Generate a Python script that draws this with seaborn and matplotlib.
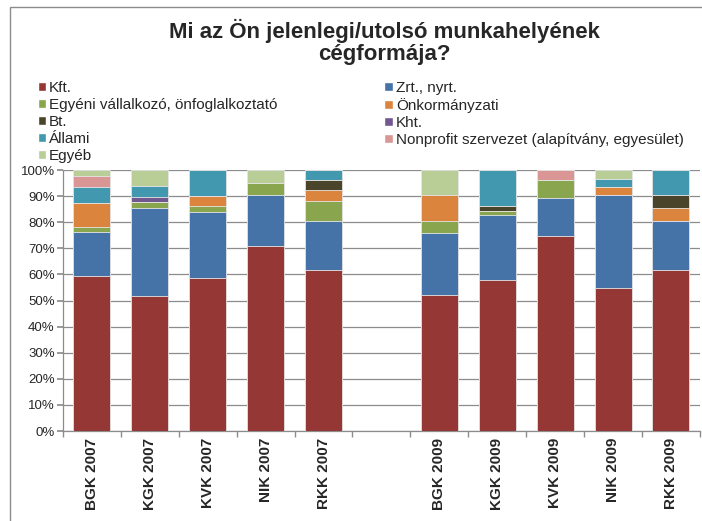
import numpy as np
import pandas as pd
import matplotlib
matplotlib.use('Agg')
import matplotlib.pyplot as plt
from matplotlib.patches import Rectangle, Patch
import seaborn as sns

categories = ['BGK 2007', 'KGK 2007', 'KVK 2007', 'NIK 2007', 'RKK 2007', '',
              'BGK 2009', 'KGK 2009', 'KVK 2009', 'NIK 2009', 'RKK 2009']

series = ['Kft.', 'Zrt., nyrt.', 'Egyéni vállalkozó, önfoglalkoztató', 'Önkormányzati',
          'Bt.', 'Kht.', 'Állami', 'Nonprofit szervezet (alapítvány, egyesület)', 'Egyéb']

kft       = [59.4, 51.9, 58.7, 71.0, 61.5, 0, 52.2, 57.7, 74.7, 54.7, 61.8]
zrt       = [17.0, 33.6, 25.4, 19.4, 18.8, 0, 23.8, 24.9, 14.4, 35.6, 18.8]
egyeni    = [1.9, 2.2, 2.1, 4.6, 8.0, 0, 4.5, 1.8, 7.1, 0.0, 0.0]
onkorm    = [8.9, 0.0, 3.8, 0.0, 3.9, 0, 9.9, 0.0, 0.0, 3.0, 4.9]
bt        = [0.0, 0.0, 0.0, 0.0, 3.8, 0, 0.0, 2.0, 0.0, 0.0, 4.9]
kht       = [0.0, 1.9, 0.0, 0.0, 0.0, 0, 0.0, 0.0, 0.0, 0.0, 0.0]
allami    = [6.1, 4.3, 10.0, 0.0, 4.0, 0, 0.0, 13.6, 0.0, 3.2, 9.6]
nonprofit = [4.3, 0.0, 0.0, 0.0, 0.0, 0, 0.0, 0.0, 3.8, 0.0, 0.0]
egyeb     = [2.4, 6.1, 0.0, 5.0, 0.0, 0, 9.6, 0.0, 0.0, 3.5, 0.0]

colors = ['#953735', '#4572A7', '#89A54E', '#DB843D', '#4A452A',
          '#71588F', '#4198AF', '#D99694', '#B9CD96']

sns.set_theme(style='white')
plt.rcParams['font.family'] = ['Liberation Sans', 'DejaVu Sans']

values = [kft, zrt, egyeni, onkorm, bt, kht, allami, nonprofit, egyeb]
df = pd.DataFrame(dict(zip(series, values)), index=categories)
df = df.div(df.sum(axis=1).replace(0, 1), axis=0) * 100
cum = df.cumsum(axis=1)

fig = plt.figure(figsize=(7.02, 5.21), dpi=100)
ax = fig.add_axes([0.0897, 0.1727, 0.9073, 0.501])

# draw cumulative totals from the top layer down so each layer covers the next
for i in reversed(range(len(series))):
    sns.barplot(x=categories, y=cum[series[i]].values, order=categories, color=colors[i],
                width=0.64, edgecolor='#e6e6e6', linewidth=0.6, saturation=1, ax=ax, zorder=3)

ax.set_ylim(0, 100)
ax.set_xlim(-0.5, len(categories) - 0.5)
ax.set_yticks(np.arange(0, 101, 10))
ax.set_yticklabels([f'{v}%' for v in range(0, 101, 10)], fontsize=9.5)
ax.yaxis.grid(True, color='#8c8c8c', linewidth=0.9)
ax.set_axisbelow(True)
for s in ['top', 'right']:
    ax.spines[s].set_visible(False)
for s in ['left', 'bottom']:
    ax.spines[s].set_color('#8c8c8c')
    ax.spines[s].set_linewidth(0.9)
ax.tick_params(axis='y', length=4, color='#8c8c8c', pad=2, left=True)
ax.set_xticks(range(len(categories)))
ax.set_xticklabels(categories, rotation=90, fontsize=11, fontweight='bold')
ax.tick_params(axis='x', length=0, pad=5)
ax.set_xticks(np.arange(-0.5, len(categories), 1), minor=True)
ax.tick_params(axis='x', which='minor', length=4, color='#8c8c8c', bottom=True)

fig.text(0.548, 0.92, 'Mi az Ön jelenlegi/utolsó munkahelyének\ncégformája?',
         ha='center', va='center', fontsize=16, fontweight='bold', linespacing=1.05)

handles = [Patch(facecolor=c, label=s) for c, s in zip(colors, series)]
order = [0, 2, 4, 6, 8, 1, 3, 5, 7]
fig.legend([handles[i] for i in order], [series[i] for i in order], ncol=2,
           loc='upper left', bbox_to_anchor=(0.045, 0.857), frameon=False,
           fontsize=11, handlelength=0.55, handleheight=0.55, handletextpad=0.2,
           labelspacing=0.2, columnspacing=7.0, borderaxespad=0)

fig.patches.append(Rectangle((10 / 702, -0.05), 1.1, 1 - 7 / 521 + 0.05, transform=fig.transFigure,
                             fill=False, edgecolor='#8c8c8c', linewidth=1.0))

fig.savefig('out.png', dpi=100)
